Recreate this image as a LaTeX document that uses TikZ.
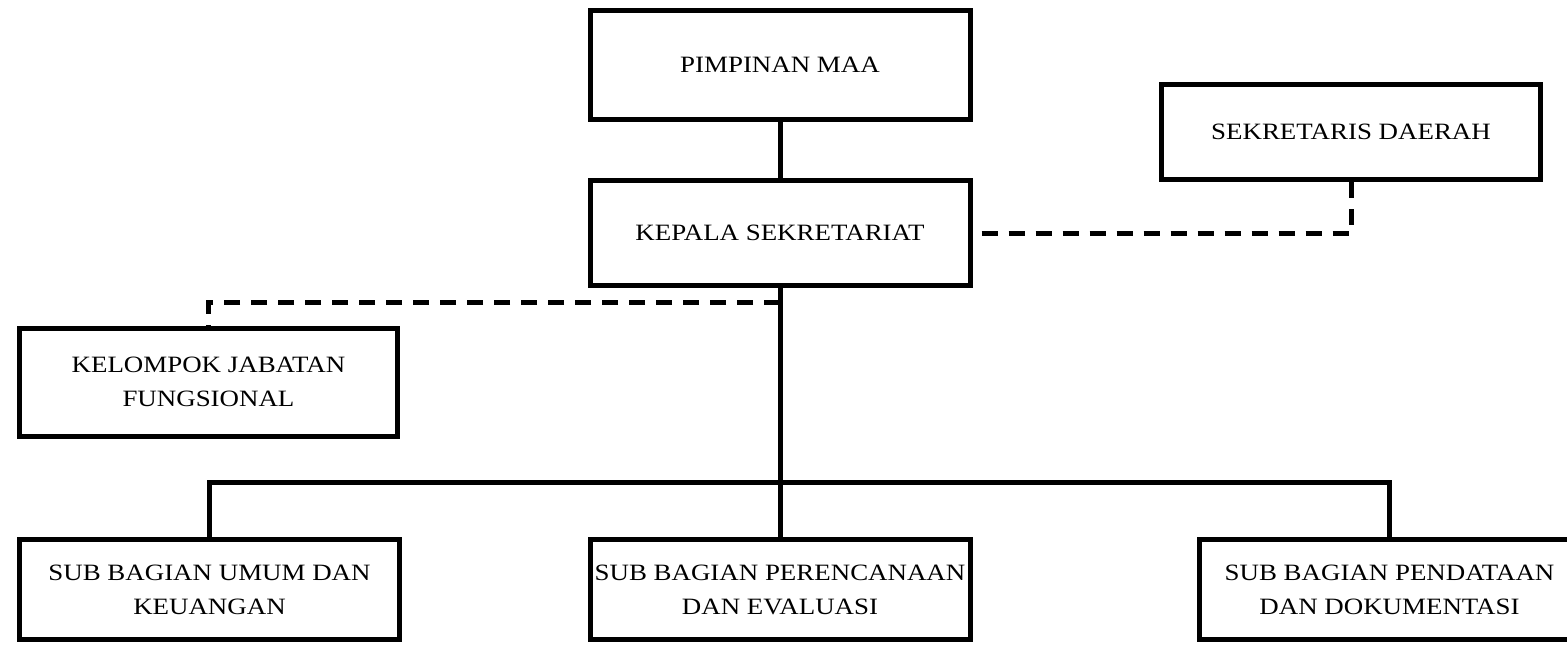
\documentclass[tikz,border=0pt]{standalone}
\usepackage{fontspec}
\newfontfamily\boxfont[FakeStretch=1.15]{Liberation Serif}
\begin{document}
\begin{tikzpicture}[x=0.5pt,y=-0.5pt,
  box/.style={draw=black,line width=2.5pt,rectangle,inner sep=0pt,
    minimum width=190pt,align=center,
    font=\boxfont\fontsize{11.7}{17}\selectfont},
  conn/.style={draw=black,line width=2.5pt},
  dsh/.style={conn,dash pattern=on 8pt off 5.5pt}]
\useasboundingbox (0,0) rectangle (1567,645);
\node[box,minimum height=54.5pt] (pim) at (780,65) {PIMPINAN MAA};
\node[box,minimum height=52.5pt] (kep) at (780,233) {KEPALA SEKRETARIAT};
\node[box,minimum width=189.5pt,minimum height=47.5pt] (sek) at (1351,132) {SEKRETARIS DAERAH};
\node[box,minimum width=189pt,minimum height=54pt] (kel) at (208.5,382) {KELOMPOK JABATAN\\FUNGSIONAL};
\node[box,minimum height=50pt] (umum) at (209.5,589.5) {SUB BAGIAN UMUM DAN\\KEUANGAN};
\node[box,minimum height=50pt] (per) at (780,589.5) {SUB BAGIAN PERENCANAAN\\DAN EVALUASI};
\node[box,minimum height=50pt] (pend) at (1389.5,589.5) {SUB BAGIAN PENDATAAN\\DAN DOKUMENTASI};
\coordinate (bus) at (780,482.5);
\coordinate (kd) at (780,302.5);
\draw[conn] (pim) -- (kep);
\draw[conn] (kep) -- (per);
\draw[conn] (umum.north) -- (umum.north |- bus) -- (pend.north |- bus) -- (pend.north);
\draw[dsh,dash phase=9pt] (kep.east) -| (sek.south);
\draw[dsh] (kd) -| (kel.north);
\end{tikzpicture}
\end{document}
